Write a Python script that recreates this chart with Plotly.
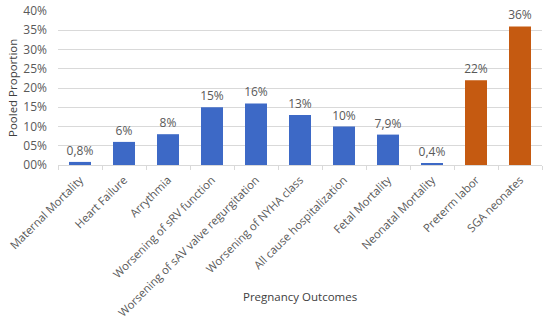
import plotly.graph_objects as go

categories = ["Maternal Mortality", "Heart Failure", "Arrythmia", "Worsening of sRV function",
              "Worsening of sAV valve regurgitation", "Worsening of NYHA class",
              "All cause hospitalization", "Fetal Mortality", "Neonatal Mortality",
              "Preterm labor", "SGA neonates"]
values = [0.8, 6, 8, 15, 16, 13, 10, 7.9, 0.4, 22, 36]
labels = ["0,8%", "6%", "8%", "15%", "16%", "13%", "10%", "7,9%", "0,4%", "22%", "36%"]
groups = ["cardiac"] * 9 + ["obstetric"] * 2
tick_vals = [0, 5, 10, 15, 20, 25, 30, 35, 40]
tick_text = ["00%", "05%", "10%", "15%", "20%", "25%", "30%", "35%", "40%"]
x_title = "Pregnancy Outcomes"
y_title = "Pooled Proportion"

color_map = {"cardiac": "#3d69c6", "obstetric": "#c55a11"}
colors = [color_map[g] for g in groups]

FONT = "Open Sans"
GREY = "#595959"

fig = go.Figure(go.Bar(
    x=categories, y=values, text=labels, textposition="outside",
    textfont=dict(family=FONT, size=12, color=GREY),
    constraintext="none",
    marker=dict(color=colors, line=dict(width=0)),
    cliponaxis=False,
))

fig.update_layout(
    width=550, height=327,
    margin=dict(l=58, r=8, t=11, b=162, autoexpand=False),
    paper_bgcolor="white", plot_bgcolor="white",
    bargap=0.5, showlegend=False,
    font=dict(family=FONT, size=12, color=GREY),
)
fig.update_xaxes(
    automargin=False,
    tickangle=-45, tickfont=dict(family=FONT, size=11.3, color=GREY),
    showline=True, linecolor="#d9d9d9", linewidth=1,
    ticks="outside", tickson="boundaries", ticklen=4, tickcolor="#d9d9d9",
    ticklabelstandoff=3,
)
fig.update_yaxes(
    automargin=False,
    range=[0, 40], tickvals=tick_vals, ticktext=tick_text,
    tickfont=dict(family=FONT, size=12, color=GREY),
    showgrid=True, gridcolor="#d9d9d9", gridwidth=1, zeroline=False,
    ticklabelstandoff=10,
)
fig.add_annotation(text=x_title, xref="paper", yref="paper", x=0.5, y=-0.857,
                   showarrow=False, xanchor="center", yanchor="middle",
                   font=dict(family=FONT, size=11.5, color="#404040"))
fig.add_annotation(text=y_title, xref="paper", yref="paper", x=-0.095, y=0.5,
                   textangle=-90, showarrow=False, xanchor="center", yanchor="middle",
                   font=dict(family=FONT, size=11.5, color="#404040"))

fig.write_html("out.html", config={"displayModeBar": False},
               post_script="document.body.style.margin='0';")
